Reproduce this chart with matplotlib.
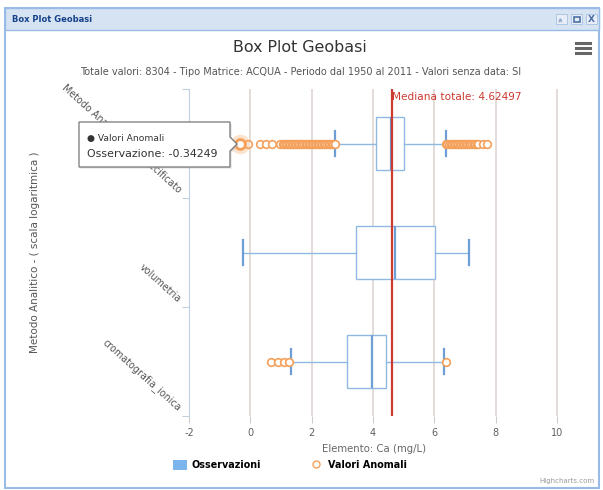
import matplotlib.pyplot as plt
import matplotlib.transforms as mtransforms
from matplotlib.patches import Rectangle, Polygon, Patch
from matplotlib.lines import Line2D

plt.rcParams["axes.unicode_minus"] = False
plt.rcParams["font.family"] = ["DejaVu Sans"]

# values
categories = ["Metodo Analitico non specificato", "volumetria", "cromatografia_ionica"]
whisker_low = [2.77, -0.25, 1.33]
q1 = [4.09, 3.45, 3.16]
medians = [4.60, 4.73, 3.98]
q3 = [5.00, 6.01, 4.41]
whisker_high = [6.37, 7.12, 6.32]
outliers_metodo = [-0.34249, -0.08, 0.30, 0.52, 0.72, 0.98, 1.05, 1.10, 1.15, 1.20, 1.25,
                   1.30, 1.35, 1.40, 1.45, 1.50, 1.55, 1.60, 1.65, 1.70, 1.75, 1.80, 1.85,
                   1.90, 1.95, 2.00, 2.05, 2.10, 2.15, 2.20, 2.25, 2.30, 2.35, 2.40, 2.45,
                   2.50, 2.55, 2.60, 2.65, 2.70, 2.76, 6.38, 6.43, 6.48, 6.53, 6.58, 6.63,
                   6.68, 6.73, 6.78, 6.83, 6.88, 6.93, 6.98, 7.03, 7.08, 7.13, 7.18, 7.23,
                   7.28, 7.33, 7.38, 7.44, 7.60, 7.71]
outliers_volumetria = []
outliers_cromatografia = [0.67, 0.89, 1.11, 1.27, 6.39]
total_median = 4.62497
tooltip_value = -0.34249
x_ticks = [-2, 0, 2, 4, 6, 8, 10]

BLUE = "#8fb8e3"
ORANGE = "#f4a05a"
RED = "#cc3a30"

W, H = 603, 490


def fx(x):
    return x / W


def fy(y):
    return 1 - y / H


fig = plt.figure(figsize=(W / 100, H / 100), dpi=100)

# window frame and header bar
fig.add_artist(Rectangle((fx(5), fy(488)), 594 / W, 480 / H, transform=fig.transFigure,
                         fill=False, ec="#99bbe8", lw=1.5))
fig.add_artist(Rectangle((fx(5), fy(30)), 594 / W, 22 / H, transform=fig.transFigure,
                         fc="#d6e3f2", ec="#99bbe8", lw=1))
fig.text(fx(12), fy(19), "Box Plot Geobasi", size=6, weight="bold", color="#15428b",
         ha="left", va="center")
for xi in [556, 571, 586]:
    fig.add_artist(Rectangle((fx(xi), fy(24)), 11 / W, 10 / H, transform=fig.transFigure,
                             fc="#e8eef8", ec="#a8c0e0", lw=0.6))
fig.text(fx(561.5), fy(19), "»", rotation=90, size=6, color="#4a6fa5", ha="center", va="center")
fig.add_artist(Rectangle((fx(573.5), fy(22)), 6 / W, 5 / H, transform=fig.transFigure,
                         fill=False, ec="#4a6fa5", lw=1.2))
fig.text(fx(591.5), fy(19), "X", size=6.5, weight="bold", color="#4a6fa5", ha="center", va="center")

# titles
fig.text(fx(300), fy(48), "Box Plot Geobasi", size=11.4, color="#333333", ha="center", va="center")
fig.text(fx(301), fy(72), "Totale valori: 8304 - Tipo Matrice: ACQUA - Periodo dal 1950 al 2011 - Valori senza data: SI",
         size=7.0, color="#555555", ha="center", va="center")
for yy in [43, 48, 53]:
    fig.add_artist(Line2D([fx(576), fx(590)], [fy(yy), fy(yy)], transform=fig.transFigure,
                          color="#666666", lw=2.2))

# plot area
left, right, top, bottom = 189, 558.5, 89, 416
ax = fig.add_axes([fx(left), fy(bottom), (right - left) / W, (bottom - top) / H])

stats = []
fliers = [outliers_metodo, outliers_volumetria, outliers_cromatografia]
for i in range(len(categories)):
    stats.append(dict(whislo=whisker_low[i], q1=q1[i], med=medians[i], q3=q3[i],
                      whishi=whisker_high[i], fliers=fliers[i]))

ax.bxp(stats, positions=[0, 1, 2], widths=0.49, capwidths=0.23, orientation="horizontal",
       patch_artist=True, manage_ticks=False,
       boxprops=dict(facecolor="white", edgecolor=BLUE, lw=1),
       whiskerprops=dict(color=BLUE, lw=1),
       capprops=dict(color="#6d9fd6", lw=1.6),
       medianprops=dict(color="#6d9fd6", lw=1.6),
       flierprops=dict(marker="o", mfc="white", mec=ORANGE, ms=5.5, mew=1.2, ls="none"))

ax.axvline(total_median, color=RED, lw=1.6, zorder=4)
ax.text(total_median + 0.01, -0.43, "Mediana totale: 4.62497", color=RED, size=7.6,
        ha="left", va="center")

# highlighted outlier
ax.plot([tooltip_value], [0], marker="o", ms=11, mfc="none", mec=ORANGE, mew=3, alpha=0.3, zorder=5)
ax.plot([tooltip_value], [0], marker="o", ms=7, mfc="white", mec=ORANGE, mew=2, zorder=6)

ax.set_xlim(-2, 10.05)
ax.set_ylim(2.5, -0.5)
ax.set_xticks(x_ticks)
ax.grid(axis="x", color="#dcd2ce", lw=1.1)
ax.set_axisbelow(True)
ax.tick_params(axis="x", length=5, color="#cccccc", labelsize=7, labelcolor="#606060", pad=4)
ax.set_yticks([-0.5, 0.5, 1.5, 2.5])
ax.tick_params(axis="y", length=5, color="#c0d0e0", labelleft=False)
for s in ["top", "right", "bottom"]:
    ax.spines[s].set_visible(False)
ax.spines["left"].set_color("#c0d0e0")
ax.set_xlabel("Elemento: Ca (mg/L)", size=7.3, color="#666666", labelpad=4)

# rotated category labels
trans = mtransforms.blended_transform_factory(ax.transAxes, ax.transData)
for i, cat in enumerate(categories):
    ax.text(-0.025, i + 0.44, cat, transform=trans, rotation=-42, rotation_mode="anchor",
            ha="right", va="center", size=6.9, color="#555555")

fig.text(fx(35), fy(252), "Metodo Analitico - ( scala logaritmica )", rotation=90,
         size=7.5, color="#555555", ha="center", va="center")

# tooltip
tip = [(79, 122), (230, 122), (230, 137), (237, 144), (230, 151), (230, 167), (79, 167)]
fig.add_artist(Polygon([(fx(x + 1.5), fy(y + 1.5)) for x, y in tip], closed=True,
                       transform=fig.transFigure, fc="#bbbbbb", ec="none", alpha=0.5))
fig.add_artist(Polygon([(fx(x), fy(y)) for x, y in tip], closed=True,
                       transform=fig.transFigure, fc="white", ec="#777777", lw=0.9))
fig.text(fx(87), fy(138), "● Valori Anomali", size=6.6, color="#333333", ha="left", va="center")
fig.text(fx(87), fy(154), "Osservazione: -0.34249", size=7.9, color="#333333", ha="left", va="center")

# legend
handles = [Patch(facecolor="#7cb5ec", edgecolor="none"),
           Line2D([], [], marker="o", ls="none", mfc="white", mec=ORANGE, ms=5)]
fig.legend(handles, ["Osservazioni", "Valori Anomali"], loc="center",
           bbox_to_anchor=(fx(290), fy(465)), ncol=2, frameon=False,
           prop=dict(weight="bold", size=6.9), handlelength=1.5, handleheight=1.3,
           columnspacing=5.0, handletextpad=0.5)

fig.text(fx(595), fy(481), "Highcharts.com", size=5, color="#999999", ha="right", va="center")

fig.savefig("out.png", dpi=100)
